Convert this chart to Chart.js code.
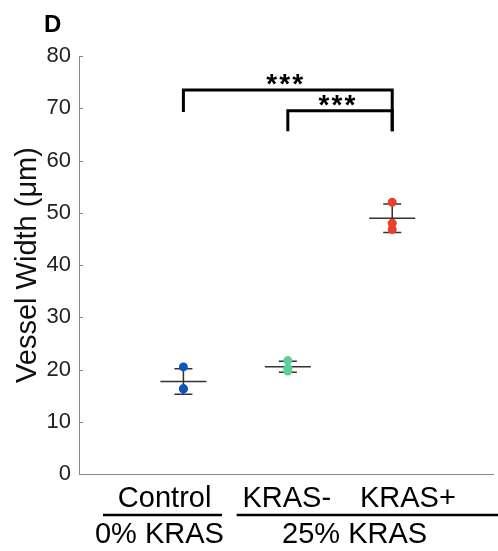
<!DOCTYPE html>
<html>
<head>
<meta charset="utf-8">
<script src="https://cdn.jsdelivr.net/npm/chart.js@4.4.1/dist/chart.umd.min.js"></script>
<style>
  html, body { margin: 0; padding: 0; background: #fff; overflow: hidden; }
  #wrap { width: 498px; height: 551px; position: relative; }
</style>
</head>
<body>
<div id="wrap"><canvas id="widthChart"></canvas></div>
<script>
// 血管幅の測定値 (μm)
const groupNames = ['Control', 'KRAS-', 'KRAS+'];
const groupX = [1, 2, 3];
const controlWidths = [20.5, 16.3, 16.3];
const krasNegWidths = [21.7, 20.2, 19.7];
const krasPosWidths = [52.0, 48.0, 46.8];
const groupColors = ['#0a55c0', '#5ccf98', '#e8412c'];
const yTicks = [0, 10, 20, 30, 40, 50, 60, 70, 80];

// 有意差ブラケット: [左x, 右x, 高さ, 左脚の下端, 右脚の下端]
const brackets = [
    [1, 3, 73.5, 69.3, 65.6],
    [2, 3, 69.5, 65.6, 65.6]
];
const bracketStars = ['***', '***'];

const FONT = '"Liberation Sans", Arial, sans-serif';
const allWidths = [controlWidths, krasNegWidths, krasPosWidths];

function mean(arr) {
    return arr.reduce((a, b) => a + b, 0) / arr.length;
}

function sd(arr) {
    const m = mean(arr);
    return Math.sqrt(arr.reduce((a, b) => a + (b - m) * (b - m), 0) / (arr.length - 1));
}

// 平均線とSDのエラーバー
const errorBarPlugin = {
    id: 'errorBars',
    beforeDatasetsDraw(chart) {
        const { ctx, scales: { x, y } } = chart;
        ctx.save();
        ctx.strokeStyle = '#333';
        ctx.lineWidth = 1.5;
        allWidths.forEach((vals, i) => {
            const m = mean(vals);
            const s = sd(vals);
            const px = x.getPixelForValue(groupX[i]);
            const yTop = y.getPixelForValue(m + s);
            const yBot = y.getPixelForValue(m - s);
            const yMean = y.getPixelForValue(m);
            ctx.beginPath();
            ctx.moveTo(px, yTop); ctx.lineTo(px, yBot);
            ctx.moveTo(px - 9, yTop); ctx.lineTo(px + 9, yTop);
            ctx.moveTo(px - 9, yBot); ctx.lineTo(px + 9, yBot);
            ctx.moveTo(px - 23, yMean); ctx.lineTo(px + 23, yMean);
            ctx.stroke();
        });
        ctx.restore();
    }
};

// 軸の内向き目盛り、ブラケット、群ラベル
const decorPlugin = {
    id: 'decor',
    afterDraw(chart) {
        const { ctx, chartArea, scales: { x, y } } = chart;
        ctx.save();

        ctx.strokeStyle = '#888';
        ctx.lineWidth = 1;
        yTicks.forEach(v => {
            const py = Math.round(y.getPixelForValue(v)) + 0.5;
            ctx.beginPath();
            ctx.moveTo(chartArea.left, py);
            ctx.lineTo(chartArea.left + 4, py);
            ctx.stroke();
        });

        ctx.strokeStyle = '#000';
        ctx.lineWidth = 3;
        ctx.fillStyle = '#000';
        ctx.font = 'bold 28px ' + FONT;
        ctx.textAlign = 'center';
        ctx.textBaseline = 'alphabetic';
        brackets.forEach((b, i) => {
            const x1 = x.getPixelForValue(b[0]);
            const x2 = x.getPixelForValue(b[1]);
            const yb = y.getPixelForValue(b[2]);
            ctx.beginPath();
            ctx.moveTo(x1, y.getPixelForValue(b[3]));
            ctx.lineTo(x1, yb);
            ctx.lineTo(x2, yb);
            ctx.lineTo(x2, y.getPixelForValue(b[4]));
            ctx.stroke();
            const cx = (x1 + x2) / 2 - 3;
            [...bracketStars[i]].forEach((s, k) => {
                ctx.fillText(s, cx + (k - 1) * 13, yb + 3);
            });
        });

        // 下部の群ラベル
        const base = chartArea.bottom;
        ctx.font = '29px ' + FONT;
        ctx.fillStyle = '#000';
        ctx.textBaseline = 'alphabetic';
        ctx.fillText(groupNames[0], x.getPixelForValue(0.82), base + 33);
        ctx.fillText(groupNames[1], x.getPixelForValue(1.99), base + 33);
        ctx.fillText(groupNames[2], x.getPixelForValue(3.15), base + 33);
        ctx.fillText('0% KRAS', x.getPixelForValue(0.77), base + 69);
        ctx.fillText('25% KRAS', x.getPixelForValue(2.64), base + 69);

        ctx.lineWidth = 2.5;
        ctx.beginPath();
        ctx.moveTo(x.getPixelForValue(0.23), base + 41);
        ctx.lineTo(x.getPixelForValue(1.37), base + 41);
        ctx.moveTo(x.getPixelForValue(1.51), base + 41);
        ctx.lineTo(chart.width, base + 41);
        ctx.stroke();

        ctx.font = 'bold 24px ' + FONT;
        ctx.textAlign = 'left';
        ctx.fillText('D', 44, 32);
        ctx.restore();
    }
};

const datasets = allWidths.map((vals, i) => ({
    label: groupNames[i],
    data: vals.map(v => ({ x: groupX[i], y: v })),
    backgroundColor: groupColors[i],
    borderColor: groupColors[i],
    pointRadius: 4.5,
    borderWidth: 0
}));

new Chart(document.getElementById('widthChart'), {
    type: 'scatter',
    data: { datasets },
    options: {
        responsive: true,
        maintainAspectRatio: false,
        animation: false,
        layout: { padding: { top: 56, right: 0, left: 0, bottom: 0 } },
        plugins: {
            legend: { display: false },
            tooltip: { enabled: false }
        },
        scales: {
            x: {
                type: 'linear',
                min: 0,
                max: 3.97,
                grid: { display: false, drawTicks: false },
                border: { display: true, color: '#888', width: 1 },
                ticks: { display: false },
                afterFit(scale) { scale.height = 77; }
            },
            y: {
                min: 0,
                max: 80,
                afterBuildTicks(scale) { scale.ticks = yTicks.map(v => ({ value: v })); },
                grid: { display: false, drawTicks: false },
                border: { display: true, color: '#888', width: 1 },
                ticks: {
                    color: '#222',
                    padding: 8,
                    font: { family: FONT, size: 22 }
                },
                title: {
                    display: true,
                    text: 'Vessel Width (μm)',
                    color: '#111',
                    padding: { top: 11, bottom: 4 },
                    font: { family: FONT, size: 29 }
                },
                afterFit(scale) { scale.width = 79; }
            }
        }
    },
    plugins: [errorBarPlugin, decorPlugin]
});
</script>
</body>
</html>
